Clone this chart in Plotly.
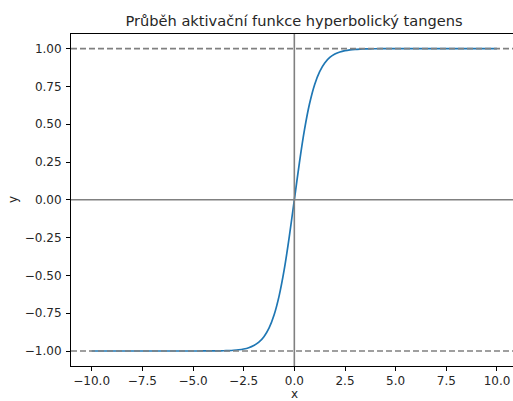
import plotly.graph_objects as go

# values
x_vals = [-10.0, -8.0, -6.0, -5.0, -4.5, -4.0, -3.75, -3.5, -3.25, -3.0, -2.75, -2.5, -2.25, -2.0,
          -1.75, -1.5, -1.25, -1.0, -0.75, -0.5, -0.25, 0.0, 0.25, 0.5, 0.75, 1.0, 1.25, 1.5,
          1.75, 2.0, 2.25, 2.5, 2.75, 3.0, 3.25, 3.5, 3.75, 4.0, 4.5, 5.0, 6.0, 8.0, 10.0]
y_vals = [-1.0, -1.0, -1.0, -0.9999, -0.9998, -0.9993, -0.9989, -0.9982, -0.9970, -0.9951, -0.9919,
          -0.9866, -0.9780, -0.9640, -0.9414, -0.9051, -0.8483, -0.7616, -0.6351, -0.4621, -0.2449,
          0.0, 0.2449, 0.4621, 0.6351, 0.7616, 0.8483, 0.9051, 0.9414, 0.9640, 0.9780, 0.9866,
          0.9919, 0.9951, 0.9970, 0.9982, 0.9989, 0.9993, 0.9998, 0.9999, 1.0, 1.0, 1.0]
x_ticks = [-10.0, -7.5, -5.0, -2.5, 0.0, 2.5, 5.0, 7.5, 10.0]
y_ticks = [-1.0, -0.75, -0.5, -0.25, 0.0, 0.25, 0.5, 0.75, 1.0]
asymptotes = [-1.0, 1.0]
title_text = "Průběh aktivační funkce hyperbolický tangens"
x_label = "x"
y_label = "y"

fig = go.Figure()
fig.add_trace(go.Scatter(x=x_vals, y=y_vals, mode="lines",
                         line=dict(color="#1f77b4", width=1.7, shape="spline", smoothing=0.6),
                         showlegend=False, hoverinfo="skip"))

shapes = []
for a in asymptotes:
    shapes.append(dict(type="line", xref="x domain", yref="y", x0=0, x1=1, y0=a, y1=a,
                       line=dict(color="#808080", width=1.6, dash="6px,3px"), layer="above"))
shapes.append(dict(type="line", xref="x domain", yref="y", x0=0, x1=1, y0=0, y1=0,
                   line=dict(color="#808080", width=1.6), layer="above"))
shapes.append(dict(type="line", xref="x", yref="y domain", x0=0, x1=0, y0=0, y1=1,
                   line=dict(color="#808080", width=1.6), layer="above"))

annotations = [
    dict(text=x_label, xref="x", x=0, yref="paper", y=0, yshift=-28, yanchor="middle",
         xanchor="center", showarrow=False, font=dict(size=12, color="#262626")),
    dict(text=y_label, xref="paper", x=0, xshift=-58, yref="paper", y=0.5, textangle=-90,
         xanchor="center", yanchor="middle", showarrow=False, font=dict(size=12, color="#262626")),
]

font = "DejaVu Sans"
fig.update_layout(
    width=513, height=401,
    margin=dict(l=71, r=0, t=34, b=35, autoexpand=False),
    paper_bgcolor="white", plot_bgcolor="white",
    font=dict(family=font, size=12, color="#262626"),
    title=dict(text=title_text, x=294/513, xref="container", xanchor="center",
               y=1 - 21/401, yanchor="middle", font=dict(size=14.6, color="#262626")),
    shapes=shapes,
    annotations=annotations,
    xaxis=dict(range=[-11.02, 10.79], tickvals=x_ticks, tickformat=".1f", automargin=False,
               showgrid=False, zeroline=False, showline=True, linecolor="black", linewidth=1,
               mirror=True, ticks="outside", ticklen=4, tickcolor="black"),
    yaxis=dict(range=[-1.0992, 1.0967], tickvals=y_ticks, tickformat=".2f", automargin=False,
               showgrid=False, zeroline=False, showline=True, linecolor="black", linewidth=1,
               ticks="outside", ticklen=4, tickcolor="black", ticklabelstandoff=2),
)

fig.write_html("out.html")
